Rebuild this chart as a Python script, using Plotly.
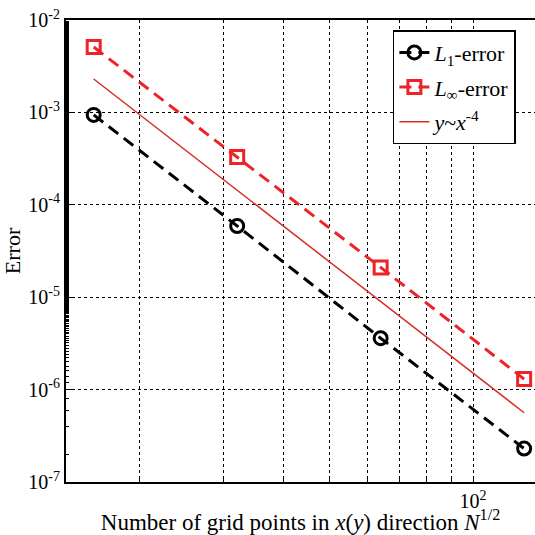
import plotly.graph_objects as go

n_points = [16, 32, 64, 128]
l1_error = [9.4e-4, 5.9e-5, 3.6e-6, 2.3e-7]
linf_error = [5.1e-3, 3.3e-4, 2.1e-5, 1.3e-6]
ref_x = [16, 128]
ref_y = [2.3e-3, 2.3e-3 / 4096]

y_tickvals = [1e-7, 1e-6, 1e-5, 1e-4, 1e-3, 1e-2]
y_ticktext = ["10<sup>-7</sup>", "10<sup>-6</sup>", "10<sup>-5</sup>",
              "10<sup>-4</sup>", "10<sup>-3</sup>", "10<sup>-2</sup>"]
x_tickvals = [20, 30, 40, 50, 60, 70, 80, 90, 100]
x_ticktext = ["", "", "", "", "", "", "", "", "10<sup>2</sup>"]

FONT = "Liberation Serif"
RED = "rgb(237,35,40)"

fig = go.Figure()
fig.add_trace(go.Scatter(
    x=n_points, y=l1_error, mode="lines+markers",
    name="<i>L</i><sub>1</sub>-error", legendgroup="a", cliponaxis=False,
    line=dict(color="black", width=3, dash="12px,7px"),
    marker=dict(symbol="circle-open", size=13, color="black", line=dict(width=3)),
))
fig.add_trace(go.Scatter(
    x=n_points, y=linf_error, mode="lines+markers",
    name="<i>L</i><sub>∞</sub>-error", legendgroup="b", cliponaxis=False,
    line=dict(color=RED, width=3, dash="12px,7px"),
    marker=dict(symbol="square-open", size=13, color=RED, line=dict(width=3)),
))
fig.add_trace(go.Scatter(
    x=ref_x, y=ref_y, mode="lines",
    name="<i>y</i>~<i>x</i><sup>-4</sup>", legendgroup="c",
    line=dict(color="rgb(215,45,35)", width=1.5),
))

fig.update_layout(
    width=535, height=535,
    margin=dict(l=66, r=0, t=20, b=53, autoexpand=False),
    plot_bgcolor="white", paper_bgcolor="white",
    font=dict(family=FONT, size=20, color="black"),
    showlegend=True,
    legend=dict(
        x=0.697, y=0.978, xanchor="left", yanchor="top",
        bgcolor="white", bordercolor="black", borderwidth=1.5,
        font=dict(family=FONT, size=22), itemwidth=30,
        tracegroupgap=3, traceorder="grouped",
    ),
    xaxis=dict(
        type="log", range=[1.146, 2.130], automargin=False,
        tickvals=x_tickvals, ticktext=x_ticktext,
        showgrid=True, gridcolor="black", griddash="dot", gridwidth=1,
        ticks="inside", ticklen=5, tickcolor="black",
        showline=True, linecolor="black", linewidth=2, mirror=True,
        zeroline=False,
        title=dict(text="Number of grid points in <i>x</i>(<i>y</i>) direction <i>N</i><sup>1/2</sup>",
                   font=dict(family=FONT, size=23), standoff=0),
        tickfont=dict(family=FONT, size=20),
    ),
    yaxis=dict(
        type="log", range=[-7, -2], automargin=False,
        tickvals=y_tickvals, ticktext=y_ticktext,
        showgrid=True, gridcolor="black", griddash="dot", gridwidth=1,
        ticks="inside", ticklen=6, tickcolor="black",
        minor=dict(ticks="inside", ticklen=3, tickcolor="black", tickwidth=1, showgrid=False),
        showline=True, linecolor="black", linewidth=2, mirror=False,
        zeroline=False,
        title=dict(text="Error", font=dict(family=FONT, size=22), standoff=8),
        tickfont=dict(family=FONT, size=20),
    ),
)

fig.write_html("out.html", config={"displayModeBar": False},
               post_script="document.body.style.margin='0';document.body.style.overflow='hidden';")
